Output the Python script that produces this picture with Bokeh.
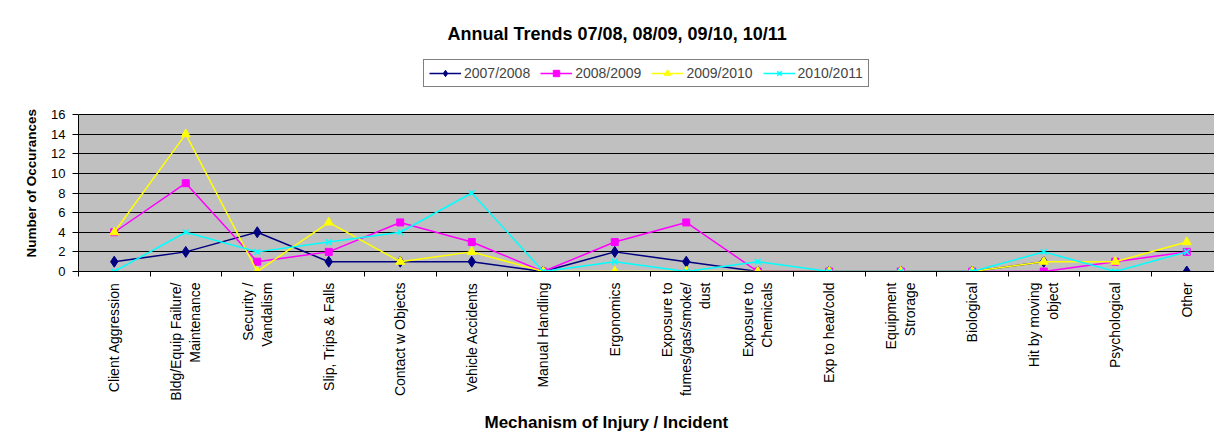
import math
from bokeh.plotting import figure
from bokeh.models import (Range1d, FixedTicker, Legend, LegendItem, Title)
from bokeh.embed import file_html
from bokeh.resources import INLINE

categories = [
    "Client Aggression",
    "Bldg/Equip Failure/\nMaintenance",
    "Security /\nVandalism",
    "Slip, Trips & Falls",
    "Contact w Objects",
    "Vehicle Accidents",
    "Manual Handling",
    "Ergonomics",
    "Exposure to\nfumes/gas/smoke/\ndust",
    "Exposure to\nChemicals",
    "Exp to heat/cold",
    "Equipment\nStrorage",
    "Biological",
    "Hit by moving\nobject",
    "Psychological",
    "Other",
]
series_names = ["2007/2008", "2008/2009", "2009/2010", "2010/2011"]
y_2007_2008 = [1, 2, 4, 1, 1, 1, 0, 2, 1, 0, 0, 0, 0, 1, float("nan"), 0]
y_2008_2009 = [4, 9, 1, 2, 5, 3, 0, 3, 5, 0, 0, 0, 0, 0, 1, 2]
y_2009_2010 = [4, 14, 0, 5, 1, 2, 0, 0, 0, 0, 0, 0, 0, 1, 1, 3]
y_2010_2011 = [0, 4, 2, 3, 4, 8, 0, 1, 0, 1, 0, 0, 0, 2, 0, 2]
y_ticks = [0, 2, 4, 6, 8, 10, 12, 14, 16]

FONT = "Liberation Sans"
x_pos = [i + 0.5 for i in range(len(categories))]
y_max = y_ticks[-1]
# frame extends above the gray plot area so that the legend sits inside it
y_top = y_max * 216 / 157

p = figure(frame_width=1136, frame_height=216, output_backend="svg", toolbar_location=None,
           x_range=Range1d(0, 15.888), y_range=Range1d(0, y_top),
           min_border_left=78, min_border_right=0, min_border_top=55,
           min_border_bottom=173)
p.background_fill_color = "white"
p.border_fill_color = "white"
p.outline_line_color = None

# gray plot area (0..16)
p.quad(left=0, right=len(categories), bottom=0, top=y_max,
       fill_color="#C0C0C0", line_color=None, level="image")

p.title.text = "Annual Trends 07/08, 08/09, 09/10, 10/11"
p.title.align = "left"
p.title.offset = 369
p.title.standoff = 23
p.title.text_font = FONT
p.title.text_font_size = "18px"
p.title.text_font_style = "bold"
p.title.text_color = "black"

# axes
p.xaxis.ticker = FixedTicker(ticks=x_pos, minor_ticks=list(range(0, 17)))
p.xaxis.major_label_overrides = {x: c for x, c in zip(x_pos, categories)}
p.xaxis.major_label_orientation = math.pi / 2
p.xaxis.major_tick_line_color = None
p.xaxis.major_tick_out = 0
p.xaxis.major_tick_in = 0
p.xaxis.minor_tick_line_color = "black"
p.xaxis.minor_tick_out = 5
p.xaxis.minor_tick_in = 0
p.xaxis.major_label_standoff = 6
p.xaxis.major_label_text_font = FONT
p.xaxis.major_label_text_font_size = "14px"
p.xaxis.major_label_text_color = "black"
p.xaxis.axis_line_color = "black"

p.yaxis.ticker = FixedTicker(ticks=y_ticks)
p.yaxis.bounds = (0, y_max)
p.yaxis.major_tick_out = 6
p.yaxis.major_tick_in = 0
p.yaxis.minor_tick_line_color = None
p.yaxis.major_label_standoff = 7
p.yaxis.major_label_text_font = FONT
p.yaxis.major_label_text_font_size = "13px"
p.yaxis.major_label_text_color = "black"
p.yaxis.axis_line_color = "black"

p.add_layout(Title(text="Number of Occurances", align="left", offset=14,
                   standoff=19, text_font=FONT, text_font_size="13.5px",
                   text_font_style="bold", text_color="black"), "left")
p.add_layout(Title(text="Mechanism of Injury / Incident", align="left", offset=406,
                   standoff=15, text_font=FONT, text_font_size="17px",
                   text_font_style="bold", text_color="black"), "below")

p.xgrid.grid_line_color = None
p.ygrid.ticker = FixedTicker(ticks=y_ticks)
p.ygrid.grid_line_color = "black"
p.ygrid.grid_line_width = 1

styles = [
    ("#000080", "diamond", 11),
    ("#FF00FF", "square", 7),
    ("#FFFF00", "triangle", 9),
    ("#00FFFF", "x", 8),
]
items = []
for name, ys, (col, mk, sz) in zip(series_names,
                                   [y_2007_2008, y_2008_2009, y_2009_2010, y_2010_2011],
                                   styles):
    ln = p.line(x_pos, ys, line_color=col, line_width=1.5)
    kw = dict(marker=mk, size=sz, line_color=col, fill_color=col)
    if mk == "x":
        kw["line_width"] = 1.5
    sc = p.scatter(x_pos, ys, **kw)
    items.append(LegendItem(label=name, renderers=[ln, sc]))

legend = Legend(items=items, orientation="horizontal", location=(345, 184),
                border_line_color="black", border_line_width=1,
                background_fill_color="white", background_fill_alpha=1,
                label_text_font=FONT, label_text_font_size="14px",
                glyph_width=32, glyph_height=16, label_standoff=3,
                spacing=10, padding=5, margin=0)
p.add_layout(legend, "center")

open("out.html", "w").write(file_html(p, INLINE))
